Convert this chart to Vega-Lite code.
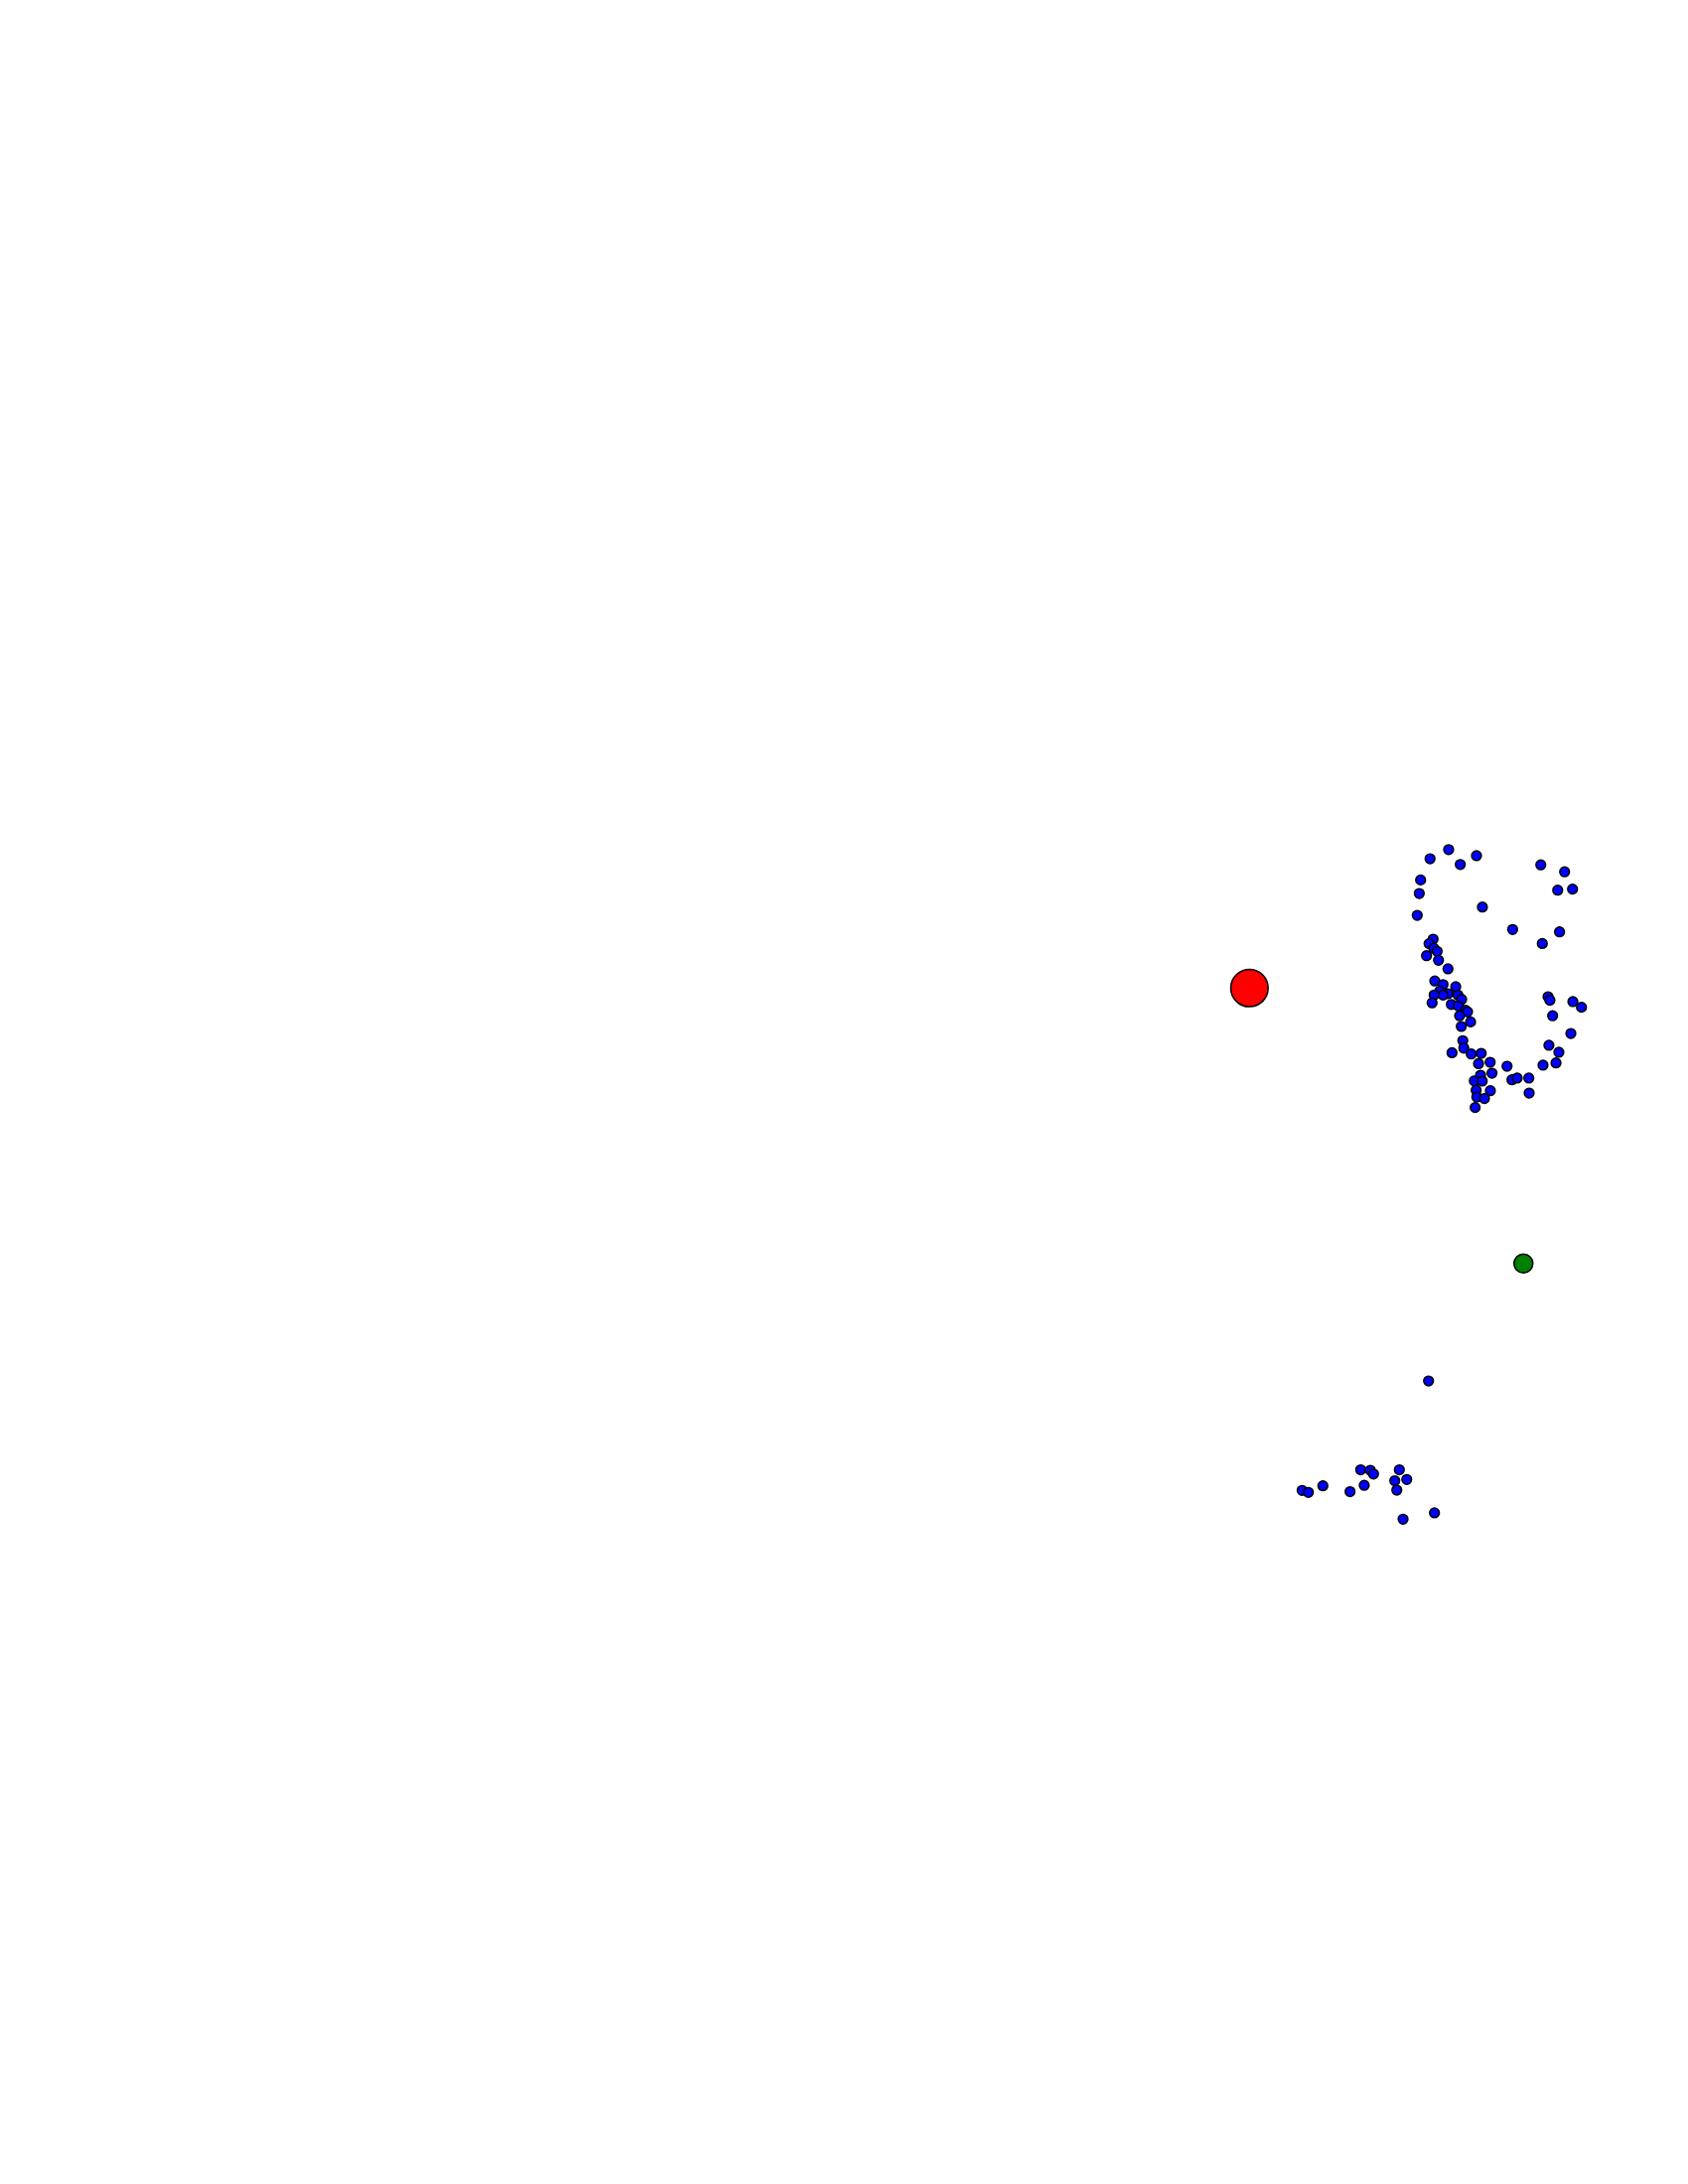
{
  "$schema": "https://vega.github.io/schema/vega-lite/v6.json",
  "width": 1700,
  "height": 2200,
  "autosize": {"type": "fit", "contains": "padding"},
  "padding": 0,
  "background": "white",
  "config": {"view": {"stroke": null}},
  "data": {"values": [
    {"x": 85.82, "y": 61.10, "kind": "point"},
    {"x": 84.72, "y": 60.68, "kind": "point"},
    {"x": 86.51, "y": 60.42, "kind": "point"},
    {"x": 87.47, "y": 60.82, "kind": "point"},
    {"x": 91.28, "y": 60.40, "kind": "point"},
    {"x": 92.69, "y": 60.08, "kind": "point"},
    {"x": 84.16, "y": 59.71, "kind": "point"},
    {"x": 92.28, "y": 59.24, "kind": "point"},
    {"x": 93.16, "y": 59.29, "kind": "point"},
    {"x": 84.08, "y": 59.09, "kind": "point"},
    {"x": 87.82, "y": 58.47, "kind": "point"},
    {"x": 83.96, "y": 58.09, "kind": "point"},
    {"x": 89.61, "y": 57.44, "kind": "point"},
    {"x": 92.39, "y": 57.33, "kind": "point"},
    {"x": 91.37, "y": 56.80, "kind": "point"},
    {"x": 84.90, "y": 57.00, "kind": "point"},
    {"x": 84.66, "y": 56.79, "kind": "point"},
    {"x": 84.94, "y": 56.58, "kind": "point"},
    {"x": 84.51, "y": 56.24, "kind": "point"},
    {"x": 85.14, "y": 56.44, "kind": "point"},
    {"x": 85.22, "y": 56.03, "kind": "point"},
    {"x": 85.78, "y": 55.64, "kind": "point"},
    {"x": 85.00, "y": 55.08, "kind": "point"},
    {"x": 85.49, "y": 54.92, "kind": "point"},
    {"x": 86.24, "y": 54.82, "kind": "point"},
    {"x": 85.29, "y": 54.62, "kind": "point"},
    {"x": 85.78, "y": 54.50, "kind": "point"},
    {"x": 86.37, "y": 54.44, "kind": "point"},
    {"x": 84.96, "y": 54.44, "kind": "point"},
    {"x": 84.84, "y": 54.08, "kind": "point"},
    {"x": 85.49, "y": 54.44, "kind": "point"},
    {"x": 86.59, "y": 54.24, "kind": "point"},
    {"x": 85.98, "y": 54.01, "kind": "point"},
    {"x": 86.39, "y": 53.94, "kind": "point"},
    {"x": 86.82, "y": 53.74, "kind": "point"},
    {"x": 86.94, "y": 53.67, "kind": "point"},
    {"x": 86.47, "y": 53.49, "kind": "point"},
    {"x": 87.12, "y": 53.21, "kind": "point"},
    {"x": 86.57, "y": 53.00, "kind": "point"},
    {"x": 86.66, "y": 52.35, "kind": "point"},
    {"x": 86.72, "y": 52.01, "kind": "point"},
    {"x": 86.02, "y": 51.80, "kind": "point"},
    {"x": 87.16, "y": 51.74, "kind": "point"},
    {"x": 87.75, "y": 51.77, "kind": "point"},
    {"x": 87.59, "y": 51.30, "kind": "point"},
    {"x": 88.28, "y": 51.36, "kind": "point"},
    {"x": 88.39, "y": 50.86, "kind": "point"},
    {"x": 87.71, "y": 50.77, "kind": "point"},
    {"x": 87.34, "y": 50.51, "kind": "point"},
    {"x": 87.81, "y": 50.50, "kind": "point"},
    {"x": 87.45, "y": 50.08, "kind": "point"},
    {"x": 88.29, "y": 50.06, "kind": "point"},
    {"x": 87.49, "y": 49.77, "kind": "point"},
    {"x": 87.94, "y": 49.70, "kind": "point"},
    {"x": 87.39, "y": 49.29, "kind": "point"},
    {"x": 89.28, "y": 51.18, "kind": "point"},
    {"x": 89.57, "y": 50.56, "kind": "point"},
    {"x": 89.88, "y": 50.64, "kind": "point"},
    {"x": 90.57, "y": 50.64, "kind": "point"},
    {"x": 90.59, "y": 49.95, "kind": "point"},
    {"x": 91.71, "y": 54.36, "kind": "point"},
    {"x": 91.82, "y": 54.20, "kind": "point"},
    {"x": 91.98, "y": 53.49, "kind": "point"},
    {"x": 93.18, "y": 54.14, "kind": "point"},
    {"x": 93.69, "y": 53.88, "kind": "point"},
    {"x": 93.06, "y": 52.68, "kind": "point"},
    {"x": 91.76, "y": 52.14, "kind": "point"},
    {"x": 92.35, "y": 51.82, "kind": "point"},
    {"x": 91.41, "y": 51.23, "kind": "point"},
    {"x": 92.18, "y": 51.33, "kind": "point"},
    {"x": 84.63, "y": 36.77, "kind": "point"},
    {"x": 80.61, "y": 32.70, "kind": "point"},
    {"x": 81.18, "y": 32.68, "kind": "point"},
    {"x": 81.37, "y": 32.51, "kind": "point"},
    {"x": 82.90, "y": 32.70, "kind": "point"},
    {"x": 83.34, "y": 32.26, "kind": "point"},
    {"x": 82.63, "y": 32.20, "kind": "point"},
    {"x": 82.75, "y": 31.77, "kind": "point"},
    {"x": 80.82, "y": 31.99, "kind": "point"},
    {"x": 79.98, "y": 31.70, "kind": "point"},
    {"x": 78.37, "y": 31.97, "kind": "point"},
    {"x": 77.14, "y": 31.76, "kind": "point"},
    {"x": 77.51, "y": 31.67, "kind": "point"},
    {"x": 83.12, "y": 30.44, "kind": "point"},
    {"x": 84.98, "y": 30.73, "kind": "point"},
    {"x": 74.02, "y": 54.76, "kind": "red"},
    {"x": 90.25, "y": 42.15, "kind": "green"}
  ]},
  "encoding": {
    "x": {"field": "x", "type": "quantitative", "scale": {"domain": [0, 100], "nice": false, "zero": false}, "axis": null},
    "y": {"field": "y", "type": "quantitative", "scale": {"domain": [0, 100], "nice": false, "zero": false}, "axis": null}
  },
  "layer": [
    {
      "transform": [{"filter": "datum.kind === 'point'"}],
      "mark": {"type": "point", "shape": "circle", "filled": true, "opacity": 1, "fill": "#0000ff", "stroke": "black", "strokeWidth": 1.5, "size": 95}
    },
    {
      "transform": [{"filter": "datum.kind === 'red'"}],
      "mark": {"type": "point", "shape": "circle", "filled": true, "opacity": 1, "fill": "#ff0000", "stroke": "black", "strokeWidth": 1.5, "size": 1420}
    },
    {
      "transform": [{"filter": "datum.kind === 'green'"}],
      "mark": {"type": "point", "shape": "circle", "filled": true, "opacity": 1, "fill": "#008000", "stroke": "black", "strokeWidth": 1.5, "size": 360}
    }
  ]
}
